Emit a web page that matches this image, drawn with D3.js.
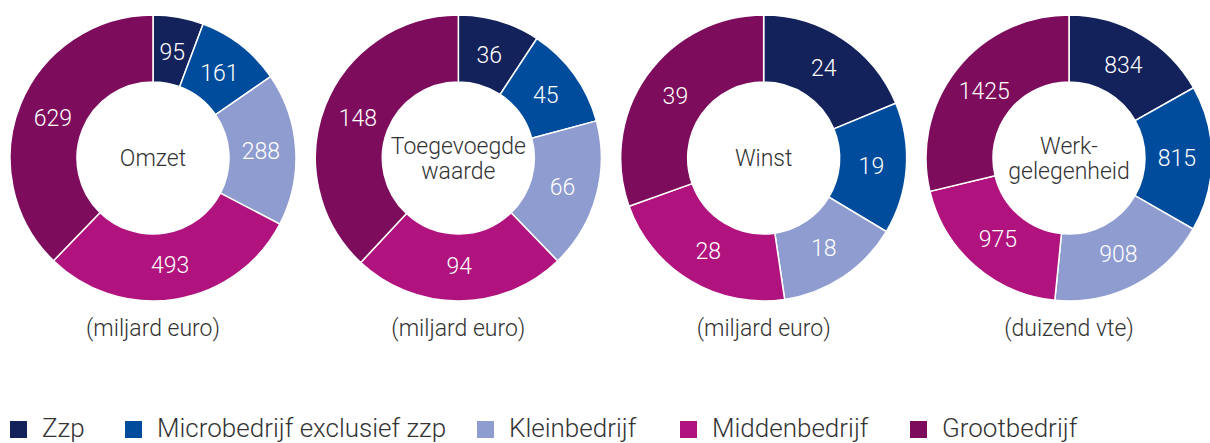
<html lang="nl">
  <head>
    <title>Donuts bedrijfsgrootte</title>
    <script src="https://d3js.org/d3.v7.min.js"></script>
    <style>
    body { margin: 0; background: #fff; }
    svg text { font-family: Roboto, sans-serif; font-weight: 300; }
    .val { fill: #fff; font-size: 23px; text-anchor: middle; }
    .mid { fill: #333; font-size: 23px; text-anchor: middle; }
    .unit { fill: #333; font-size: 23px; text-anchor: middle; }
    .leg { fill: #333; font-size: 26px; }
    </style>
  </head>
  <body>
    <svg id="chart" width="1210" height="443"></svg>
    <script>
      var categories = ["Zzp", "Microbedrijf exclusief zzp", "Kleinbedrijf", "Middenbedrijf", "Grootbedrijf"];
      var colors = ["#14225c", "#004c9c", "#8f9ccf", "#b0137e", "#7d0c5c"];
      var titles = [["Omzet"], ["Toegevoegde", "waarde"], ["Winst"], ["Werk-", "gelegenheid"]];
      var units = ["(miljard euro)", "(miljard euro)", "(miljard euro)", "(duizend vte)"];
      var omzet = [95, 161, 288, 493, 629];
      var toegevoegd = [36, 45, 66, 94, 148];
      var winst = [24, 19, 18, 28, 39];
      var werk = [834, 815, 908, 975, 1425];
      var series = [omzet, toegevoegd, winst, werk];

      var svg = d3.select("#chart");
      var outerR = 143, innerR = 76, cy = 158;
      var xPos = d3.scalePoint().domain(d3.range(series.length)).range([153, 1069]);
      var color = d3.scaleOrdinal().domain(categories).range(colors);

      var pie = d3.pie().sort(null).value(function(d){ return d; });
      var arc = d3.arc().innerRadius(innerR).outerRadius(outerR);
      var labelArc = d3.arc().innerRadius(108).outerRadius(108);

      series.forEach(function(vals, i) {
        var g = svg.append("g").attr("transform", "translate(" + xPos(i) + "," + cy + ")");
        var arcs = pie(vals);
        g.selectAll("path").data(arcs).enter().append("path")
          .attr("d", arc)
          .attr("fill", function(d, j){ return color(categories[j]); })
          .attr("stroke", "#fff")
          .attr("stroke-width", 1.5);
        g.selectAll("text.val").data(arcs).enter().append("text")
          .attr("class", "val")
          .attr("transform", function(d){ return "translate(" + labelArc.centroid(d) + ")"; })
          .attr("dy", "0.35em")
          .text(function(d){ return d.data; });
        var t = titles[i];
        g.selectAll("text.mid").data(t).enter().append("text")
          .attr("class", "mid")
          .attr("y", function(d, k){ return (k - (t.length - 1) / 2) * 25; })
          .attr("dy", "0.35em")
          .text(function(d){ return d; });
        g.append("text").attr("class", "unit").attr("y", 170).attr("dy", "0.35em").text(units[i]);
      });

      var legX = [10, 125, 477, 680, 910];
      var leg = svg.selectAll("g.legend").data(categories).enter().append("g")
        .attr("class", "legend")
        .attr("transform", function(d, i){ return "translate(" + legX[i] + ",421)"; });
      leg.append("rect").attr("width", 17).attr("height", 17).attr("fill", function(d){ return color(d); });
      leg.append("text").attr("class", "leg").attr("x", 32).attr("y", 16).text(function(d){ return d; });
    </script>
  </body>
</html>
